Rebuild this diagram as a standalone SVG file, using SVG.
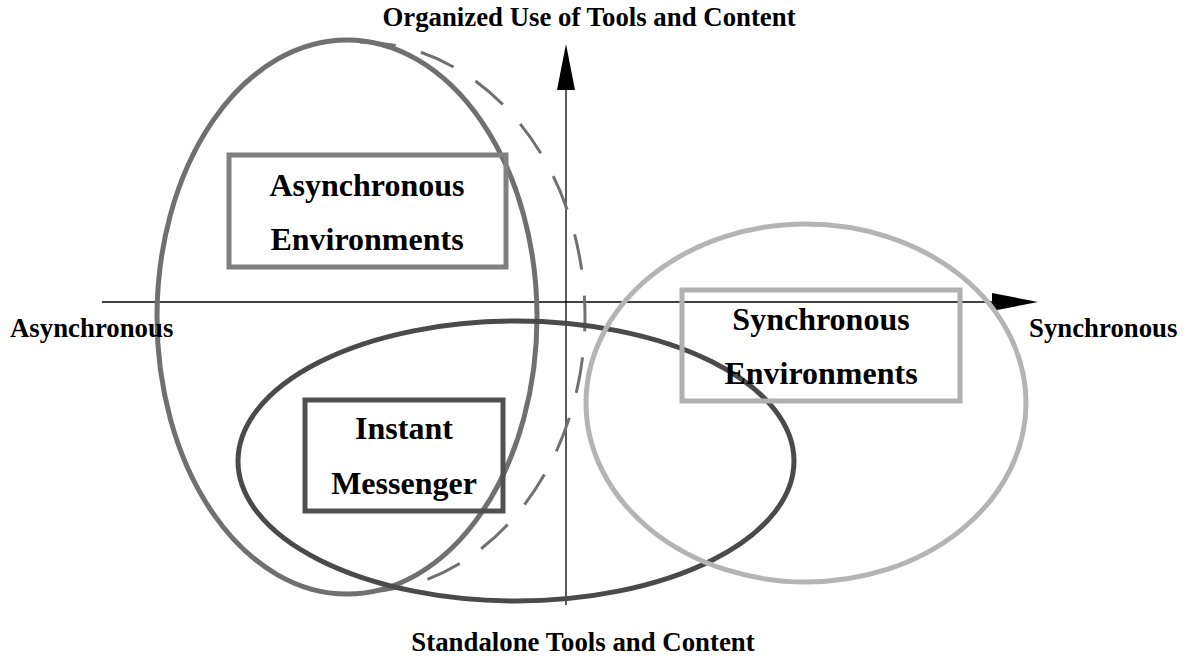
<svg xmlns="http://www.w3.org/2000/svg" width="1186" height="659" viewBox="0 0 1186 659">
<style>
text{font-family:"Liberation Serif","Times New Roman",serif;font-weight:bold;fill:#000;}
.ax{font-size:26.8px;}
.bx{font-size:32px;text-anchor:middle;}
.axis{stroke:#000;stroke-width:1.3;fill:none;}
</style>
<defs>
<marker id="arr" viewBox="0 0 46 18" refX="2" refY="9" markerWidth="46" markerHeight="18" markerUnits="userSpaceOnUse" orient="auto">
<path d="M0,0 L46,9 L0,18 Z" fill="#000"/>
</marker>
</defs>
<rect width="1186" height="659" fill="#fff"/>
<g id="connectors">
<line class="axis" x1="102" y1="302" x2="994" y2="302" marker-end="url(#arr)"/>
<line class="axis" x1="566" y1="605" x2="566" y2="88" marker-end="url(#arr)"/>
</g>
<g id="async-ellipse"><ellipse cx="347" cy="317" rx="190" ry="277" fill="none" stroke="#707070" stroke-width="5"/></g>
<g id="dashed-boundary"><path d="M360,42 A225,275 0 0 1 360,592" fill="none" stroke="#707070" stroke-width="3" stroke-dasharray="36,26"/></g>
<g id="im-ellipse"><ellipse cx="516" cy="461" rx="278" ry="140" fill="none" stroke="#4a4a4a" stroke-width="5"/></g>
<g id="sync-ellipse"><ellipse cx="806" cy="403" rx="220" ry="179" fill="none" stroke="#b4b4b4" stroke-width="5"/></g>
<g id="async-box"><rect x="229" y="155" width="277" height="112" fill="none" stroke="#808080" stroke-width="5"/>
<text class="bx" x="367" y="196">Asynchronous</text><text class="bx" x="367" y="250">Environments</text></g>
<g id="sync-box"><rect x="682" y="290" width="278" height="111" fill="none" stroke="#b0b0b0" stroke-width="5"/>
<text class="bx" x="821" y="330">Synchronous</text><text class="bx" x="821" y="384">Environments</text></g>
<g id="im-box"><rect x="305" y="400" width="198" height="111" fill="none" stroke="#505050" stroke-width="5"/>
<text class="bx" x="404" y="439">Instant</text><text class="bx" x="404" y="494">Messenger</text></g>
<g id="labels">
<text class="ax" x="589" y="26" text-anchor="middle">Organized Use of Tools and Content</text>
<text class="ax" x="583" y="651" text-anchor="middle">Standalone Tools and Content</text>
<text class="ax" x="10" y="337">Asynchronous</text>
<text class="ax" x="1029" y="337">Synchronous</text>
</g>
</svg>
